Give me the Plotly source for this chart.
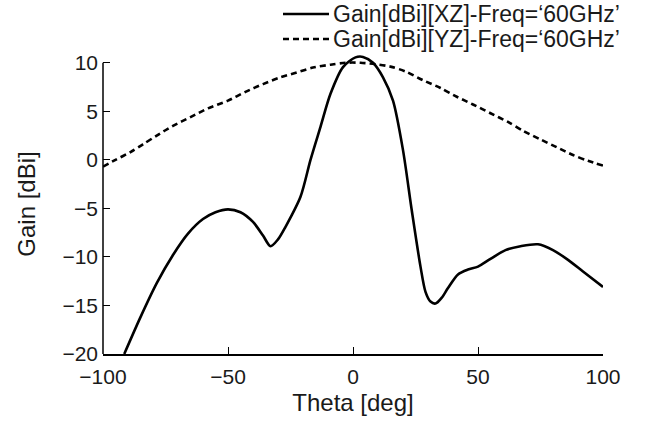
import plotly.graph_objects as go

# XZ cut (solid)
theta_xz = [-91.5, -85, -78.5, -72, -66, -60, -55, -50, -45, -40, -36, -33, -30, -27, -21,
            -17, -13, -9, -4, 1, 4, 8, 12, 16, 20, 23.5, 27, 29, 31, 33, 35.5, 38, 42, 46,
            50, 55, 61, 67, 74, 80, 86, 92, 100]
gain_xz = [-20, -16.2, -12.7, -9.8, -7.6, -6.1, -5.4, -5.1, -5.4, -6.4, -7.8, -8.9, -8.2, -6.9, -3.8,
           0.0, 3.4, 6.8, 9.55, 10.55, 10.6, 10.0, 8.5, 6.1, 1.0, -5.2, -11.0, -13.6, -14.6, -14.8, -14.2,
           -13.2, -11.8, -11.3,
           -11.0, -10.2, -9.3, -8.9, -8.7, -9.3, -10.3, -11.5, -13.1]

# YZ cut (dashed)
theta_yz = [-100, -95, -89, -84, -78.5, -72, -65, -58, -50, -43, -36, -29, -22.5, -16, -9, -3,
            3, 9, 15, 21, 28, 35, 41.5, 48, 55, 62, 68, 75, 81.5, 88, 94, 100]
gain_yz = [-0.7, 0.0, 0.8, 1.6, 2.5, 3.5, 4.4, 5.3, 6.1, 7.0, 7.8, 8.5, 9.0, 9.5, 9.8, 10.0,
           10.0, 9.85, 9.6, 9.1, 8.2, 7.4, 6.5, 5.7, 4.8, 3.9, 3.0, 2.1, 1.3, 0.5, -0.1, -0.6]

series_names = ["Gain[dBi][XZ]-Freq=\u201860GHz\u2019", "Gain[dBi][YZ]-Freq=\u201860GHz\u2019"]
series_dash = ["solid", "6px,4px"]

x_ticks = [-100, -50, 0, 50, 100]
y_ticks = [-20, -15, -10, -5, 0, 5, 10]

FONT = "Liberation Sans, Arial, sans-serif"
TXT = "#1a1a1a"

fig = go.Figure()
fig.add_trace(go.Scatter(x=theta_xz, y=gain_xz, mode="lines", name=series_names[0],
                         showlegend=False,
                         line=dict(color="black", width=2.6, shape="spline", smoothing=0.8)))
fig.add_trace(go.Scatter(x=theta_yz, y=gain_yz, mode="lines", name=series_names[1],
                         showlegend=False,
                         line=dict(color="black", width=2.6, dash=series_dash[1],
                                   shape="spline", smoothing=0.8)))

# manual legend (paper coordinates)
legend_rows_y = [1.1333, 1.0501]
for name, dash, yy in zip(series_names, series_dash, legend_rows_y):
    fig.add_shape(type="line", xref="paper", yref="paper", x0=0.36, x1=0.452, y0=yy, y1=yy,
                  line=dict(color="black", width=2.6, dash=dash))
    fig.add_annotation(text=name, xref="paper", yref="paper", x=0.456, y=yy,
                       xanchor="left", yanchor="middle", showarrow=False,
                       font=dict(size=23, family=FONT, color=TXT))

# y axis line only up to 10
fig.add_shape(type="line", xref="paper", yref="y", x0=0, x1=0, y0=-20, y1=10,
              line=dict(color="black", width=1.5))

fig.update_layout(
    width=646, height=427,
    margin=dict(l=103, r=43, t=53.55, b=73, autoexpand=False),
    paper_bgcolor="white", plot_bgcolor="white",
    font=dict(family=FONT, size=20, color=TXT),
    showlegend=False,
)
fig.update_xaxes(range=[-100, 100], tickvals=x_ticks, ticks="inside", ticklen=7,
                 tickwidth=1.3, tickcolor="black", showline=True, linecolor="black",
                 linewidth=1.5, showgrid=False, zeroline=False, ticklabelstandoff=3,
                 tickfont=dict(size=21),
                 title=dict(text="Theta [deg]", standoff=7))
fig.update_yaxes(range=[-20, 10.9], tickvals=y_ticks, ticks="inside", ticklen=7,
                 tickwidth=1.3, tickcolor="black", showline=False,
                 showgrid=False, zeroline=False, ticklabelstandoff=4,
                 tickfont=dict(size=21),
                 title=dict(text="Gain [dBi]", standoff=19))

fig.write_html("out.html")
